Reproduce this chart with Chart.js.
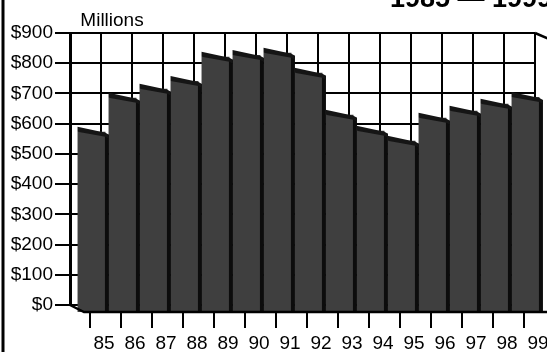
<!DOCTYPE html>
<html>
<head>
<meta charset="utf-8">
<script src="https://cdn.jsdelivr.net/npm/chart.js@4"></script>
<style>
html, body { margin: 0; padding: 0; background: #fff; overflow: hidden; }
</style>
</head>
<body>
<canvas id="salesChart" width="547" height="352"></canvas>
<script>
const years = ['85', '86', '87', '88', '89', '90', '91', '92', '93', '94', '95', '96', '97', '98', '99'];
const sales = [600, 712, 742, 768, 848, 854, 861, 795, 656, 603, 570, 646, 669, 692, 715];
const yMin = 0;
const yMax = 900;
const yStep = 100;
const unitLabel = 'Millions';
const titleText = '1985 \u2014 1999';

// offset of the bar fronts from the back wall
const depthX = 6;
const depthY = 8;
const fontFamily = "'Liberation Sans', Arial, sans-serif";

const box3d = {
	id: 'box3d',
	beforeDatasetsDraw(chart) {
		const ctx = chart.ctx;
		ctx.save();
		ctx.translate(depthX, depthY);
	},
	afterDatasetsDraw(chart) {
		const ctx = chart.ctx;
		const meta = chart.getDatasetMeta(0);
		meta.data.forEach(function(bar) {
			const p = bar.getProps(['x', 'y', 'base', 'width'], true);
			const L = p.x - p.width / 2;
			const R = p.x + p.width / 2;
			const T = p.y;
			ctx.fillStyle = '#0c0c0c';
			ctx.fillRect(R - 0.5, T + 3, 4, p.base - T - 3);
			ctx.fillStyle = '#151515';
			ctx.beginPath();
			ctx.moveTo(L, T - 5);
			ctx.lineTo(R, T + 1);
			ctx.lineTo(R + 3.5, T + 3);
			ctx.lineTo(R + 3.5, T + 7);
			ctx.lineTo(R, T + 5);
			ctx.lineTo(L, T);
			ctx.closePath();
			ctx.fill();
		});
		ctx.restore();

		const area = chart.chartArea;
		const x = chart.scales.x;
		ctx.save();
		ctx.strokeStyle = '#000';
		ctx.lineWidth = 2.5;
		// floor edge
		ctx.beginPath();
		ctx.moveTo(area.left, area.bottom);
		ctx.lineTo(area.left + 14, area.bottom + 7);
		ctx.lineTo(chart.width, area.bottom + 7);
		ctx.stroke();
		// top right edge
		ctx.beginPath();
		ctx.moveTo(area.right, area.top);
		ctx.lineTo(area.right + 14, area.top + 6);
		ctx.stroke();
		// category ticks under the floor
		ctx.lineWidth = 2;
		years.forEach(function(y, i) {
			const px = x.getPixelForValue(i) + 4.5;
			ctx.beginPath();
			ctx.moveTo(px, area.bottom + 8);
			ctx.lineTo(px, area.bottom + 23);
			ctx.stroke();
		});
		// frame on the left
		ctx.lineWidth = 3;
		ctx.beginPath();
		ctx.moveTo(3, 0);
		ctx.lineTo(3, chart.height);
		ctx.stroke();

		ctx.fillStyle = '#000';
		ctx.textBaseline = 'alphabetic';
		ctx.textAlign = 'center';
		ctx.font = '19px ' + fontFamily;
		ctx.fillText(unitLabel, 112, 26);
		ctx.textAlign = 'left';
		ctx.font = 'bold 27px ' + fontFamily;
		ctx.fillText(titleText, 390, 7);
		ctx.restore();
	}
};

new Chart(document.getElementById('salesChart').getContext('2d'), {
	type: 'bar',
	data: {
		labels: years,
		datasets: [{
			data: sales,
			backgroundColor: '#3f3f3f',
			borderWidth: 0,
			barPercentage: 0.9,
			categoryPercentage: 1,
			clip: false
		}]
	},
	options: {
		responsive: false,
		animation: false,
		devicePixelRatio: 1,
		layout: {
			padding: { left: 0, top: 33, right: 12, bottom: 0 }
		},
		scales: {
			x: {
				grid: {
					offset: true,
					color: '#000',
					lineWidth: 2,
					drawTicks: false
				},
				border: { display: false },
				ticks: {
					color: '#000',
					font: { family: fontFamily, size: 19 },
					padding: 27,
					labelOffset: 18.5,
					autoSkip: false,
					maxRotation: 0
				},
				afterFit: function(scale) {
					scale.height = 47;
					scale.paddingLeft = 0;
					scale.paddingRight = 0;
				}
			},
			y: {
				min: yMin,
				max: yMax,
				grid: {
					color: '#000',
					lineWidth: 2,
					tickLength: 15
				},
				border: { display: true, color: '#000', width: 3 },
				ticks: {
					stepSize: yStep,
					color: '#000',
					padding: 2,
					font: { family: fontFamily, size: 19 },
					callback: function(v) {
						return '$' + v;
					}
				},
				afterFit: function(scale) {
					scale.width = 70;
				}
			}
		},
		plugins: {
			legend: { display: false },
			tooltip: { enabled: false }
		}
	},
	plugins: [box3d]
});
</script>
</body>
</html>
